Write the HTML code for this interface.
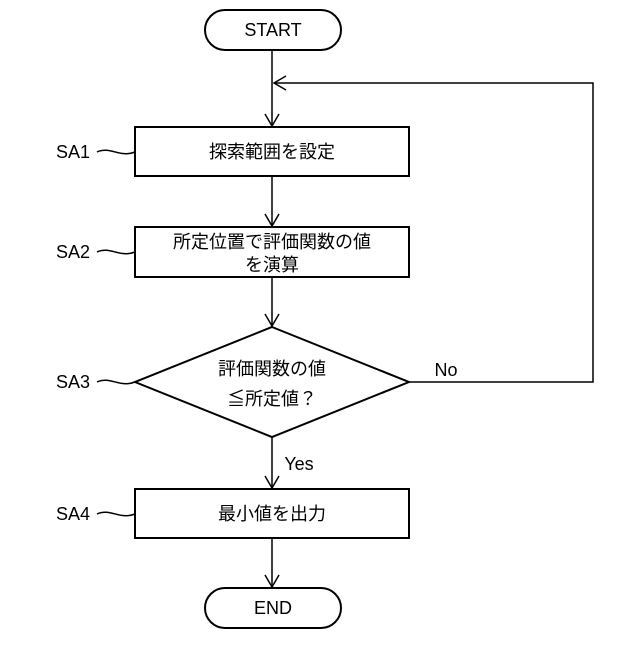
<!DOCTYPE html>
<html><head><meta charset="utf-8"><style>body{margin:0;background:#fff}</style></head><body>
<svg width="640" height="640" viewBox="0 0 640 640" xmlns="http://www.w3.org/2000/svg" font-family="'Liberation Sans','Noto Sans CJK JP',sans-serif" fill="none" stroke="#000" stroke-width="2">
<rect x="205" y="10" width="136" height="40" rx="20"/>
<rect x="135" y="127" width="274" height="49"/>
<rect x="135" y="227" width="274" height="50"/>
<polygon points="272,327 409,382 272,437 135,382"/>
<rect x="135" y="489" width="274" height="49"/>
<rect x="205" y="588" width="136" height="40" rx="20"/>
<g stroke-width="1.5">
<line x1="272" y1="50" x2="272" y2="126"/>
<line x1="272" y1="176" x2="272" y2="226"/>
<line x1="272" y1="277" x2="272" y2="326"/>
<line x1="272" y1="437" x2="272" y2="488"/>
<line x1="272" y1="538" x2="272" y2="587"/>
<polyline points="409,382 593,382 593,83 274,83"/>
<polyline points="265,114 272,126 279,114"/>
<polyline points="265,214 272,226 279,214"/>
<polyline points="265,314 272,326 279,314"/>
<polyline points="265,476 272,488 279,476"/>
<polyline points="265,575 272,587 279,575"/>
<polyline points="286,76 274,83 286,90"/>
<path d="M97,152 C110,146 120,158 135,152"/>
<path d="M97,252 C110,246 120,258 135,252"/>
<path d="M97,382 C110,376 120,388 135,382"/>
<path d="M97,514 C110,508 120,520 135,514"/>
</g>
<g fill="#000" stroke="none" font-size="18" text-anchor="middle">
<text x="273" y="36">START</text>
<text x="273" y="614">END</text>
<text x="272" y="158">探索範囲を設定</text>
<text x="272" y="248">所定位置で評価関数の値</text>
<text x="272" y="271">を演算</text>
<text x="272" y="375">評価関数の値</text>
<text x="272" y="405">≦所定値？</text>
<text x="272" y="520">最小値を出力</text>
<text x="299" y="470">Yes</text>
<text x="446" y="376">No</text>
<text x="73" y="158">SA1</text>
<text x="73" y="258">SA2</text>
<text x="73" y="388">SA3</text>
<text x="73" y="520">SA4</text>
</g>
</svg>
</body></html>
